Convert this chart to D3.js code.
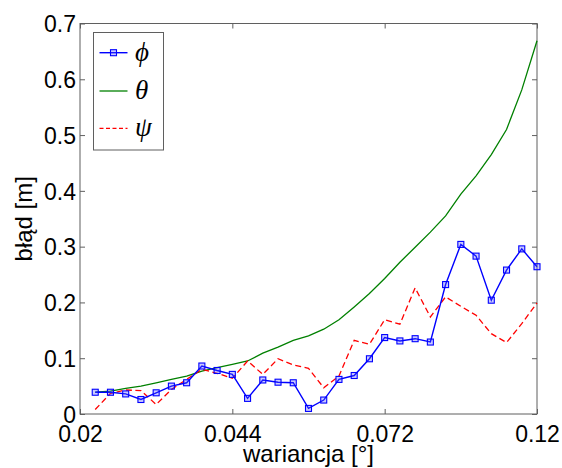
<!DOCTYPE html>
<html><head><meta charset="utf-8">
<script src="https://cdn.jsdelivr.net/npm/d3@7"></script>
<style>
html,body{margin:0;padding:0;background:#fff;}
svg{display:block;}
text{font-family:"Liberation Sans",Arial,sans-serif;}
</style></head>
<body>
<svg id="chart" width="562" height="468"></svg>
<script>
// step index of each measurement along the variance axis
const steps = [1,2,3,4,5,6,7,8,9,10,11,12,13,14,15,16,17,18,19,20,21,22,23,24,25,26,27,28,29,30];
const phiValues = [0.039,0.039,0.036,0.026,0.038,0.050,0.056,0.086,0.078,0.071,0.028,0.061,0.057,0.056,0.010,0.025,0.062,0.069,0.099,0.137,0.131,0.135,0.129,0.232,0.304,0.283,0.204,0.258,0.296,0.264];
const thetaValues = [0.039,0.041,0.046,0.050,0.056,0.062,0.068,0.077,0.083,0.089,0.095,0.109,0.120,0.132,0.140,0.152,0.169,0.192,0.216,0.243,0.272,0.299,0.326,0.355,0.394,0.427,0.465,0.510,0.581,0.669];
const psiValues = [0.008,0.037,0.043,0.042,0.017,0.044,0.062,0.080,0.073,0.064,0.095,0.071,0.099,0.088,0.082,0.047,0.068,0.132,0.125,0.169,0.161,0.226,0.174,0.210,0.193,0.177,0.144,0.128,0.162,0.199];
const xTickSteps = [0,10,20,30];
const xTickLabels = ["0.02","0.044","0.072","0.12"];
const yTicks = [0,0.1,0.2,0.3,0.4,0.5,0.6,0.7];
const seriesNames = ["\u03D5","\u03B8","\u03C8"];
const xLabel = "wariancja [\u00B0]";
const yLabel = "b\u0142\u0105d [m]";

const svg = d3.select("#chart");
const L = 80, R = 537, T = 23.5, B = 414;
const x = d3.scaleLinear().domain([0,30]).range([L,R]);
const y = d3.scaleLinear().domain([0,0.7]).range([B,T]);
const axisColor = "#5f5f5f";

// frame
svg.append("rect").attr("x",L).attr("y",T).attr("width",R-L).attr("height",B-T)
  .attr("fill","none").attr("stroke",axisColor).attr("stroke-width",1);

const xb = svg.append("g").attr("transform",`translate(0,${B})`)
  .call(d3.axisBottom(x).tickValues(xTickSteps).tickFormat((d)=>xTickLabels[xTickSteps.indexOf(d)]).tickSizeInner(-5).tickSizeOuter(0).tickPadding(12));
const xt = svg.append("g").attr("transform",`translate(0,${T})`)
  .call(d3.axisTop(x).tickValues(xTickSteps).tickFormat("").tickSizeInner(-5).tickSizeOuter(0));
const yl = svg.append("g").attr("transform",`translate(${L},0)`)
  .call(d3.axisLeft(y).tickValues(yTicks).tickFormat(d3.format("")).tickSizeInner(-5).tickSizeOuter(0).tickPadding(4));
const yr = svg.append("g").attr("transform",`translate(${R},0)`)
  .call(d3.axisRight(y).tickValues(yTicks).tickFormat("").tickSizeInner(-5).tickSizeOuter(0));
[xb,xt,yl,yr].forEach(g=>{
  g.select(".domain").remove();
  g.selectAll(".tick line").attr("stroke",axisColor);
  g.selectAll(".tick text").attr("fill","#000").style("font-size","23px").style("font-family","'Liberation Sans',Arial,sans-serif");
});
yl.selectAll(".tick text").attr("dy","0.36em");

// axis labels
svg.append("text").attr("x",(L+R)/2).attr("y",462).attr("text-anchor","middle")
  .style("font-size","24px").attr("fill","#000").text(xLabel);
svg.append("text").attr("transform",`translate(32,${(T+B)/2}) rotate(-90)`).attr("text-anchor","middle")
  .style("font-size","24px").attr("fill","#000").text(yLabel);

const line = (vals)=>d3.line().x((d,i)=>x(steps[i])).y(d=>y(d))(vals);

svg.append("path").attr("d",line(thetaValues)).attr("fill","none").attr("stroke","#008000").attr("stroke-width",1.3);
svg.append("path").attr("d",line(psiValues)).attr("fill","none").attr("stroke","#ff0000").attr("stroke-width",1.3).attr("stroke-dasharray","6,3.5");
svg.append("path").attr("d",line(phiValues)).attr("fill","none").attr("stroke","#0000ff").attr("stroke-width",1.4);
svg.append("g").selectAll("rect").data(phiValues).join("rect")
  .attr("x",(d,i)=>x(steps[i])-3).attr("y",d=>y(d)-3).attr("width",6).attr("height",6)
  .attr("fill","rgba(80,80,255,0.3)").attr("stroke","#0000ff").attr("stroke-width",1.1);

// legend
const lg = svg.append("g");
lg.append("rect").attr("x",93.5).attr("y",32.5).attr("width",70).attr("height",117.5)
  .attr("fill","#fff").attr("stroke",axisColor).attr("stroke-width",1);
const legendY = [52.7,91,128.3];
const legendStyles = [
  {c:"#0000ff",dash:null,w:1.4,marker:true},
  {c:"#008000",dash:null,w:1.3,marker:false},
  {c:"#ff0000",dash:"4,2.5",w:1.3,marker:false}
];
legendStyles.forEach((s,i)=>{
  const ly = legendY[i];
  const ln = lg.append("line").attr("x1",99.5).attr("x2",127.5).attr("y1",ly).attr("y2",ly)
    .attr("stroke",s.c).attr("stroke-width",s.w);
  if(s.dash) ln.attr("stroke-dasharray",s.dash);
  if(s.marker) lg.append("rect").attr("x",110.5).attr("y",ly-3).attr("width",6).attr("height",6)
    .attr("fill","rgba(80,80,255,0.3)").attr("stroke","#0000ff").attr("stroke-width",1.1);
  lg.append("text").attr("x",135).attr("y",ly+8).style("font-family","'Liberation Serif','DejaVu Serif',serif")
    .style("font-style","italic").style("font-size","27px").attr("fill","#000").text(seriesNames[i]);
});
</script>
</body></html>
